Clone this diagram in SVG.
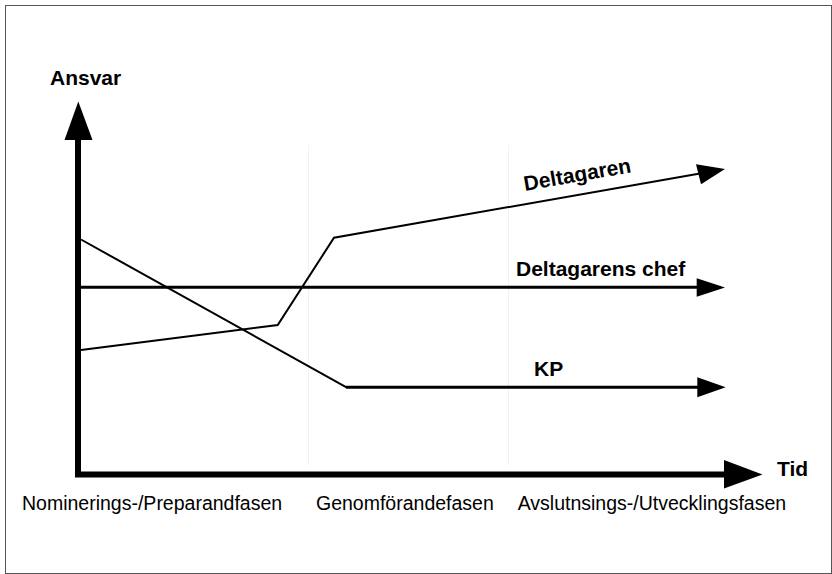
<svg xmlns="http://www.w3.org/2000/svg" width="832" height="574" viewBox="0 0 832 574">
<style>
.frame{fill:none;stroke:#555;stroke-width:1}
.guide{stroke:#f2f2f2;stroke-width:1}
.axis{stroke:#000;stroke-width:6;fill:none}
.ln{stroke:#000;fill:none;stroke-linejoin:miter}
.head{fill:#000}
.bold{font-family:"Liberation Sans",Arial,Helvetica,sans-serif;font-weight:bold;font-size:21px;fill:#000}
.reg{font-family:"Liberation Sans",Arial,Helvetica,sans-serif;font-size:19.5px;fill:#000}
</style>
<rect class="frame" x="5.5" y="5.5" width="826" height="568"/>
<g id="guides">
<line class="guide" x1="308.5" y1="145" x2="308.5" y2="465"/>
<line class="guide" x1="508.5" y1="145" x2="508.5" y2="465"/>
</g>
<g id="axes">
<line class="axis" x1="78" y1="138" x2="78" y2="477"/>
<polygon class="head" points="78.3,101.5 64.5,140 92.5,140"/>
<line class="axis" x1="75" y1="474.5" x2="726" y2="474.5"/>
<polygon class="head" points="762.5,474.5 724,460 724,488.5"/>
<text class="bold" x="50" y="85">Ansvar</text>
<text class="bold" x="777" y="476">Tid</text>
</g>
<g id="connectors">
<g id="kp">
<polyline class="ln" stroke-width="2" points="81,239.5 346.5,387.3"/>
<line class="ln" stroke-width="3" x1="346" y1="387.3" x2="699" y2="387.3"/>
<polygon class="head" points="725.7,387.3 697.3,377.3 697.3,397.3"/>
</g>
<g id="chef">
<line class="ln" stroke-width="3" x1="81" y1="287.3" x2="698" y2="287.3"/>
<polygon class="head" points="725,287.5 696.7,278.3 696.7,296.7"/>
</g>
<g id="deltagaren">
<polyline class="ln" stroke-width="2" points="81,350 277.7,325 334,237.7 700,173.5"/>
<polygon class="head" points="725,169 696,164.3 701,184.3"/>
</g>
</g>
<g id="labels">
<text class="bold" x="525" y="191" transform="rotate(-10 525 191)">Deltagaren</text>
<text class="bold" x="516" y="276">Deltagarens chef</text>
<text class="bold" x="534" y="375.7">KP</text>
</g>
<g id="phases">
<text class="reg" x="22" y="510">Nominerings-/Preparandfasen</text>
<text class="reg" x="316" y="510">Genomförandefasen</text>
<text class="reg" x="517.7" y="510">Avslutnsings-/Utvecklingsfasen</text>
</g>
</svg>
